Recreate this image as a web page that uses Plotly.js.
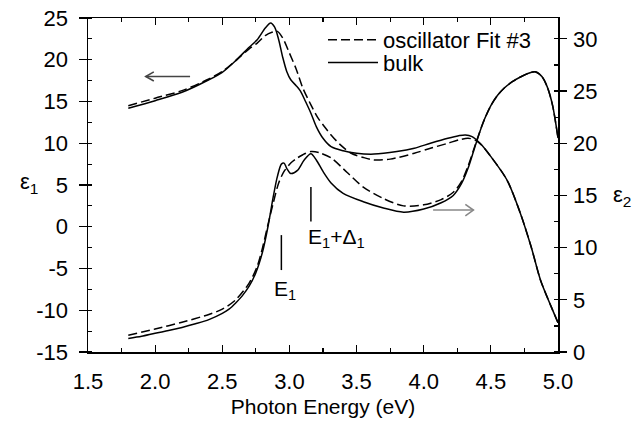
<!DOCTYPE html>
<html>
<head>
<meta charset="utf-8">
<script src="https://cdn.plot.ly/plotly-3.0.1.min.js"></script>
<style>html,body{margin:0;padding:0;background:#fff;}#chart{width:639px;height:433px;}</style>
</head>
<body>
<div id="chart"></div>
<script>
// ---- data ----
const bulkE1_x = [1.8, 2.0, 2.2, 2.4, 2.5, 2.6, 2.7, 2.76, 2.82, 2.86, 2.89, 2.92, 2.95, 2.98, 3.01, 3.05, 3.08, 3.12, 3.16, 3.2, 3.25, 3.31, 3.4, 3.5, 3.63, 3.8, 3.93, 4.05, 4.18, 4.26, 4.31, 4.36, 4.42, 4.5, 4.62, 4.72, 4.8, 4.87, 4.95, 5.0];
const bulkE1_y = [14.2, 15.1, 16.1, 17.6, 18.5, 19.9, 21.5, 22.4, 23.8, 24.4, 23.9, 22.4, 20.3, 18.6, 17.6, 16.9, 16.3, 15.0, 13.6, 12.0, 10.6, 9.6, 9.1, 8.8, 8.7, 9.0, 9.4, 10.0, 10.6, 10.9, 11.0, 10.8, 10.0, 8.4, 5.6, 1.6, -2.4, -6.4, -9.6, -11.5];

const fitE1_x = [1.8, 2.0, 2.2, 2.4, 2.5, 2.6, 2.7, 2.76, 2.82, 2.87, 2.91, 2.95, 3.0, 3.05, 3.1, 3.16, 3.21, 3.26, 3.31, 3.38, 3.46, 3.55, 3.63, 3.75, 3.93, 4.05, 4.18, 4.26, 4.33, 4.38, 4.43, 4.5, 4.62, 4.72, 4.8, 4.87, 4.95, 5.0];
const fitE1_y = [14.5, 15.4, 16.3, 17.7, 18.6, 19.9, 21.3, 22.0, 22.9, 23.3, 23.4, 22.6, 20.8, 18.9, 16.6, 14.6, 13.1, 12.0, 11.0, 9.8, 8.8, 8.3, 8.0, 8.1, 8.8, 9.4, 10.0, 10.4, 10.6, 10.4, 9.8, 8.4, 5.6, 1.6, -2.4, -6.4, -9.6, -11.5];

const bulkE2_x = [1.8, 1.9, 2.0, 2.1, 2.2, 2.3, 2.4, 2.5, 2.55, 2.6, 2.65, 2.7, 2.75, 2.8, 2.84, 2.88, 2.91, 2.94, 2.96, 2.98, 3.01, 3.06, 3.11, 3.16, 3.2, 3.25, 3.31, 3.4, 3.55, 3.7, 3.85, 4.0, 4.13, 4.22, 4.28, 4.33, 4.38, 4.44, 4.5, 4.55, 4.6, 4.66, 4.72, 4.78, 4.83, 4.88, 4.92, 4.96, 5.0];
const bulkE2_y = [1.3, 1.5, 1.8, 2.05, 2.35, 2.7, 3.1, 3.7, 4.1, 4.7, 5.4, 6.3, 7.6, 9.6, 12.0, 14.9, 16.8, 18.0, 18.1, 17.6, 17.1, 17.4, 18.4, 19.0, 18.4, 17.3, 16.2, 15.2, 14.4, 13.8, 13.4, 13.7, 14.3, 15.0, 16.1, 17.6, 19.6, 21.9, 23.6, 24.6, 25.3, 25.9, 26.35, 26.7, 26.85, 26.4, 25.4, 23.6, 20.5];

const fitE2_x = [1.8, 2.0, 2.2, 2.4, 2.5, 2.6, 2.7, 2.76, 2.8, 2.84, 2.88, 2.92, 2.96, 3.01, 3.06, 3.1, 3.16, 3.22, 3.31, 3.43, 3.55, 3.7, 3.85, 4.0, 4.13, 4.22, 4.28, 4.33, 4.38, 4.44, 4.5, 4.55, 4.6, 4.66, 4.72, 4.78, 4.83, 4.88, 4.92, 4.96, 5.0];
const fitE2_y = [1.6, 2.2, 2.85, 3.6, 4.1, 5.0, 6.6, 8.2, 10.0, 12.2, 14.3, 16.2, 17.3, 18.1, 18.6, 18.9, 19.2, 19.1, 18.6, 17.2, 15.8, 14.7, 14.0, 14.1, 14.6, 15.3, 16.3, 17.8, 19.7, 21.9, 23.6, 24.6, 25.3, 25.9, 26.35, 26.7, 26.85, 26.4, 25.4, 23.6, 20.5];

const seriesNames = ["oscillator Fit #3", "bulk"];
const xTickVals = [1.5, 2.0, 2.5, 3.0, 3.5, 4.0, 4.5, 5.0];
const y1TickVals = [-15, -10, -5, 0, 5, 10, 15, 20, 25];
const y1TickText = ["-15", "-10", "-5", "0", "5", "10", "15", "20", "25"];
const y2TickVals = [0, 5, 10, 15, 20, 25, 30];

// transition markers (energy, eps2 span)
const markE1 = {x: 2.94, y0: 7.85, y1: 11.2};
const markE1D = {x: 3.16, y0: 12.5, y1: 15.8};
// direction arrows: [head x, tail x, level]
const arrowLeft = {head: 1.93, tail: 2.26, y: 18.0};
const arrowRight = {head: 4.37, tail: 4.07, y: 13.6};

const FONT = "Liberation Sans, Arial, Helvetica, sans-serif";
const DASH = "9px,4px";
const SM = 0.8;

const traces = [
  {x: fitE1_x, y: fitE1_y, name: seriesNames[0], mode: "lines", legend: "legend", line: {color: "#000", width: 1.5, dash: DASH, shape: "spline", smoothing: SM}},
  {x: bulkE1_x, y: bulkE1_y, name: seriesNames[1], mode: "lines", legend: "legend2", line: {color: "#000", width: 1.5, shape: "spline", smoothing: SM}},
  {x: fitE2_x, y: fitE2_y, name: seriesNames[0], yaxis: "y2", mode: "lines", showlegend: false, line: {color: "#000", width: 1.5, dash: DASH, shape: "spline", smoothing: SM}},
  {x: bulkE2_x, y: bulkE2_y, name: seriesNames[1], yaxis: "y2", mode: "lines", showlegend: false, line: {color: "#000", width: 1.5, shape: "spline", smoothing: SM}}
];

function arrowShapes(a, yref, color) {
  const dir = a.tail > a.head ? 1 : -1;
  const hx = a.head + dir * 0.06;
  return [
    {type: "line", xref: "x", yref: yref, x0: a.tail, x1: a.head, y0: a.y, y1: a.y, line: {color: color, width: 1.6}},
    {type: "path", xref: "x", yref: yref, path: `M ${hx},${a.y + 0.55} L ${a.head},${a.y} L ${hx},${a.y - 0.55}`, line: {color: color, width: 1.6}}
  ];
}

const legendBase = {xanchor: "left", yanchor: "middle", bgcolor: "rgba(0,0,0,0)", font: {size: 22}, itemwidth: 50};

const layout = {
  width: 639, height: 433,
  margin: {l: 88, r: 81, t: 18, b: 81, pad: 0},
  paper_bgcolor: "#fff", plot_bgcolor: "#fff",
  font: {family: FONT, size: 22, color: "#000"},
  showlegend: true,
  legend: Object.assign({x: 0.5, y: 0.934}, legendBase),
  legend2: Object.assign({x: 0.5, y: 0.866}, legendBase),
  xaxis: {
    range: [1.5, 5.0], tickvals: xTickVals, tickformat: ".1f",
    ticks: "inside", ticklen: 7, tickwidth: 1.2, tickcolor: "#000",
    minor: {dtick: 0.25, tick0: 1.5, ticks: "inside", ticklen: 4, tickcolor: "#000"},
    showline: true, linecolor: "#000", linewidth: 1.5, mirror: "ticks",
    showgrid: false, zeroline: false, ticklabelstandoff: 9,
    title: {text: "Photon Energy (eV)", font: {size: 21}, standoff: 6}
  },
  yaxis: {
    range: [-15, 25], tickvals: y1TickVals, ticktext: y1TickText,
    ticks: "outside", ticklen: 8, tickwidth: 1.2, tickcolor: "#000",
    minor: {dtick: 2.5, tick0: 0, ticks: "inside", ticklen: 4, tickcolor: "#000"},
    showline: true, linecolor: "#000", linewidth: 1.5,
    showgrid: false, zeroline: false, ticklabelstandoff: 6
  },
  yaxis2: {
    range: [0, 32], tickvals: y2TickVals, overlaying: "y", side: "right",
    ticks: "outside", ticklen: 7, tickwidth: 1.2, tickcolor: "#000",
    minor: {dtick: 2.5, tick0: 0, ticks: "inside", ticklen: 4, tickcolor: "#000"},
    showline: true, linecolor: "#000", linewidth: 1.5,
    showgrid: false, zeroline: false, ticklabelstandoff: 2
  },
  shapes: [
    {type: "line", xref: "x", yref: "y2", x0: markE1.x, x1: markE1.x, y0: markE1.y0, y1: markE1.y1, line: {color: "#000", width: 1.5}},
    {type: "line", xref: "x", yref: "y2", x0: markE1D.x, x1: markE1D.x, y0: markE1D.y0, y1: markE1D.y1, line: {color: "#000", width: 1.5}},
    ...arrowShapes(arrowLeft, "y", "#444"),
    ...arrowShapes(arrowRight, "y2", "#888")
  ],
  annotations: [
    {text: "ε<sub>1</sub>", xref: "paper", yref: "paper", x: -0.15, y: 0.506, showarrow: false, font: {size: 22}},
    {text: "ε<sub>2</sub>", xref: "paper", yref: "paper", x: 1.16, y: 0.467, showarrow: false, font: {size: 22}},
    {text: "E<sub>1</sub>", xref: "x", yref: "y2", x: 2.97, y: 5.9, showarrow: false, font: {size: 21}},
    {text: "E<sub>1</sub>+Δ<sub>1</sub>", xref: "x", yref: "y2", x: 3.125, y: 10.9, xanchor: "left", showarrow: false, font: {size: 21}}
  ]
};

Plotly.newPlot("chart", traces, layout, {staticPlot: true, displayModeBar: false});
</script>
</body>
</html>
